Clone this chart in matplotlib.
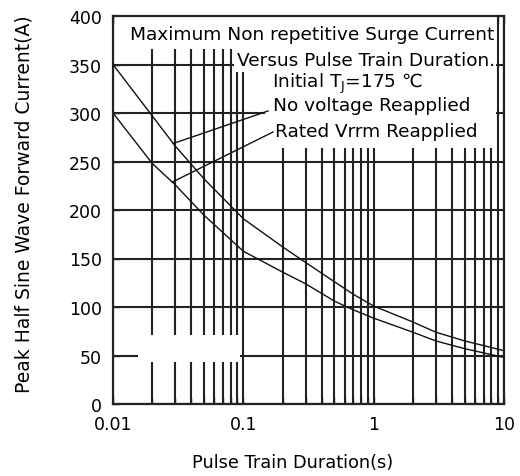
import numpy as np
import matplotlib
matplotlib.use("Agg")
import matplotlib.pyplot as plt
from matplotlib.patches import Rectangle

plt.rcParams['font.family'] = ['DejaVu Sans']
plt.rcParams['mathtext.fontset'] = 'dejavusans'

# Data
duration = [0.01, 0.02, 0.03, 0.05, 0.1, 0.2, 0.3, 0.5, 0.7, 1, 2, 3, 5, 10]
no_voltage = [350, 297, 266, 232, 191, 162, 146, 126, 113, 101, 84.5, 74, 65, 55]
rated_vrrm = [300, 248, 226, 194.5, 157.5, 136, 124, 106, 97, 88.5, 74, 65, 57, 48]

x_ticks = [0.01, 0.1, 1, 10]
x_ticklabels = ['0.01', '0.1', '1', '10']
y_ticks = [0, 50, 100, 150, 200, 250, 300, 350, 400]

title_lines = ['Maximum Non repetitive Surge Current',
               'Versus Pulse Train Duration.']
cond_text = 'Initial T$_{\\rm J}$=175 \u2103'
label_no_voltage = 'No voltage Reapplied'
label_rated = 'Rated Vrrm Reapplied'

W, H = 520, 477
fig = plt.figure(figsize=(W / 100, H / 100), dpi=100)
L, R, T, B = 113, 504, 17, 405
ax = fig.add_axes([L / W, 1 - B / H, (R - L) / W, (B - T) / H])

ax.set_xscale('log')
ax.set_xlim(0.01, 10)
ax.set_ylim(0, 400)

gc = '#222222'
glw = 1.5
ax.set_axisbelow(True)
ax.set_xticks(x_ticks)
ax.set_xticklabels(x_ticklabels)
ax.set_yticks(y_ticks)
ax.grid(True, which='both', axis='x', color=gc, lw=glw)
ax.grid(True, which='major', axis='y', color=gc, lw=glw)
ax.tick_params(which='both', direction='in', top=True, right=False,
               labelsize=12.5, pad=8, color=gc)
ax.tick_params(which='major', length=5, width=1)
ax.tick_params(which='minor', length=5, width=1)
for s in ax.spines.values():
    s.set_linewidth(1.6)
    s.set_color(gc)


def px2data(px, py):
    fx = (px - L) / (R - L)
    fy = (B - py) / (B - T)
    xv = 10 ** (-2 + 3 * fx)
    yv = 400 * fy
    return xv, yv


def white_box(p0x, p0y, p1x, p1y):
    x0, y1 = px2data(p0x, p0y)
    x1, y0 = px2data(p1x, p1y)
    ax.add_patch(Rectangle((x0, y0), x1 - x0, y1 - y0, facecolor='white',
                           edgecolor='none', zorder=1))


# white areas masking the grid (text box and blank label area)
white_box(115, 18, 496, 50)
white_box(234, 50, 496, 73)
white_box(265, 73, 496, 149)
white_box(138, 336, 240, 363)

# curves
ax.plot(duration, no_voltage, color='#111111', lw=1.0, zorder=3)
ax.plot(duration, rated_vrrm, color='#111111', lw=1.0, zorder=3)


def fr(px, py):
    return (px - L) / (R - L), (B - py) / (B - T)


fs = 13.3
ax.text(*fr(494, 35), title_lines[0], transform=ax.transAxes, ha='right',
        va='center', fontsize=fs, zorder=4)
ax.text(*fr(495, 61), title_lines[1], transform=ax.transAxes, ha='right',
        va='center', fontsize=fs, zorder=4)
ax.text(*fr(272, 84), cond_text, transform=ax.transAxes, ha='left',
        va='center', fontsize=fs, zorder=4)
ax.text(*fr(273, 106), label_no_voltage, transform=ax.transAxes, ha='left',
        va='center', fontsize=fs, zorder=4)
ax.text(*fr(275, 132), label_rated, transform=ax.transAxes, ha='left',
        va='center', fontsize=fs, zorder=4)

# leader lines from curves to labels
lx = np.log10(duration)
x_up = 0.029
y_up = np.interp(np.log10(x_up), lx, no_voltage)
x_lo = 0.0285
y_lo = np.interp(np.log10(x_lo), lx, rated_vrrm)
ex1, ey1 = px2data(268, 112)
ex2, ey2 = px2data(273, 133)
ax.plot([x_up, ex1], [y_up, ey1], color='#111111', lw=1.0, zorder=3)
ax.plot([x_lo, ex2], [y_lo, ey2], color='#111111', lw=1.0, zorder=3)

fig.text(293 / W, 1 - 463 / H, 'Pulse Train Duration(s)', ha='center',
         va='center', fontsize=12.8)
fig.text(24 / W, 1 - 204 / H, 'Peak Half Sine Wave Forward Current(A)',
         ha='center', va='center', rotation=90, fontsize=13.5)

fig.savefig('out.png', dpi=100)
